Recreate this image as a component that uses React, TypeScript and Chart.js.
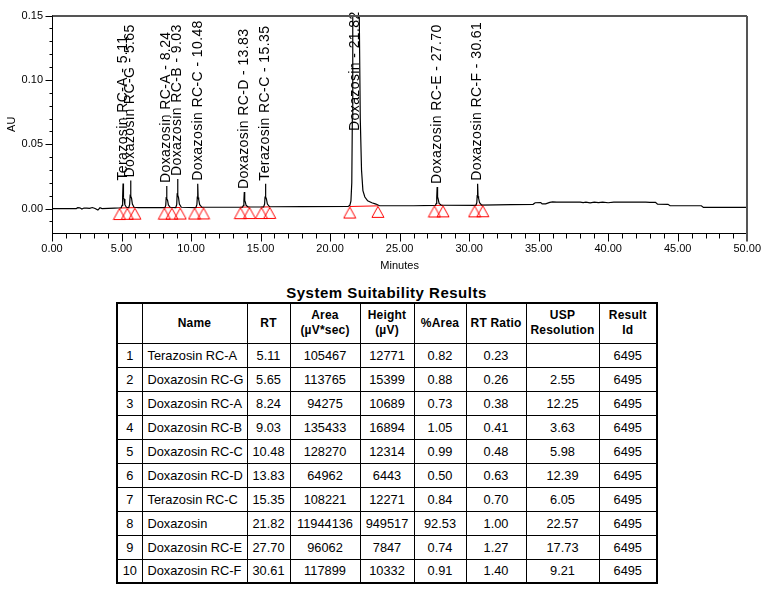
import React, { useEffect, useRef } from 'react';
import { Chart, registerables } from 'chart.js';

Chart.register(...registerables);

// ---------- Data ----------
const peakNames = [
  'Terazosin RC-A', 'Doxazosin RC-G', 'Doxazosin RC-A', 'Doxazosin RC-B', 'Doxazosin RC-C',
  'Doxazosin RC-D', 'Terazosin RC-C', 'Doxazosin', 'Doxazosin RC-E', 'Doxazosin RC-F',
];
const peakRT = [5.11, 5.65, 8.24, 9.03, 10.48, 13.83, 15.35, 21.82, 27.7, 30.61];
const peakArea = [105467, 113765, 94275, 135433, 128270, 64962, 108221, 11944136, 96062, 117899];
const peakHeight = [12771, 15399, 10689, 16894, 12314, 6443, 12271, 949517, 7847, 10332];
const peakPctArea = [0.82, 0.88, 0.73, 1.05, 0.99, 0.5, 0.84, 92.53, 0.74, 0.91];
const peakRTRatio = [0.23, 0.26, 0.38, 0.41, 0.48, 0.63, 0.7, 1.0, 1.27, 1.4];
const peakUSPRes: (number | null)[] = [null, 2.55, 12.25, 3.63, 5.98, 12.39, 6.05, 22.57, 17.73, 9.21];
const peakResultId = [6495, 6495, 6495, 6495, 6495, 6495, 6495, 6495, 6495, 6495];

// label anchor (AU): label starts just above this value
const labelAnchorAU = [0.0194, 0.0219, 0.0175, 0.023, 0.0193, 0.0128, 0.0193, 0.058, 0.0167, 0.0193];

// chromatogram trace (minutes, AU)
const traceTime = [
  0, 1.75, 1.85, 2.0, 2.15, 2.3, 2.5, 2.7, 2.9, 3.1, 3.3, 3.45, 3.6, 4.5,
  4.98, 5.04, 5.08, 5.11, 5.14, 5.18, 5.24, 5.35,
  5.52, 5.58, 5.62, 5.65, 5.68, 5.72, 5.78, 5.9, 6.2, 7.0,
  8.12, 8.18, 8.21, 8.24, 8.27, 8.31, 8.37, 8.5,
  8.9, 8.97, 9.0, 9.03, 9.06, 9.1, 9.16, 9.3,
  10.35, 10.42, 10.45, 10.48, 10.51, 10.55, 10.62, 10.78, 12.0,
  13.7, 13.77, 13.8, 13.83, 13.86, 13.9, 13.96, 14.1,
  15.22, 15.29, 15.32, 15.35, 15.38, 15.42, 15.49, 15.65, 18.0, 21.3,
  21.42, 21.5, 21.56, 21.6, 21.63, 21.7, 21.82, 21.95, 22.08, 22.17, 22.26, 22.36, 22.5, 22.7, 23.0, 23.3, 23.55,
  26.0, 27.57, 27.64, 27.67, 27.7, 27.73, 27.77, 27.84, 28.0,
  30.48, 30.55, 30.58, 30.61, 30.64, 30.68, 30.75, 30.9,
  33.0, 34.6, 34.75, 35.15, 35.25, 35.5, 35.8, 36.0, 36.3, 38.0, 38.2, 38.4, 38.7, 39.0, 39.3, 39.6, 40.0, 40.4,
  42.7, 43.0, 43.4, 43.55, 44.3, 44.45, 46.7, 46.85, 50.0,
];
const traceAU = [
  0, 0, 0.0007, 0.0006, -0.0004, 0.0004, 0.0003, 0.0002, 0.0008, 0.0, -0.0012, 0.0006, 0.0, 0.0004,
  0.0006, 0.0025, 0.009, 0.0194, 0.0085, 0.0075, 0.003, 0.001,
  0.0007, 0.003, 0.01, 0.0219, 0.0095, 0.008, 0.0035, 0.001, 0.0007, 0.0007,
  0.0007, 0.0025, 0.008, 0.0175, 0.0075, 0.0065, 0.0028, 0.001,
  0.0008, 0.003, 0.011, 0.023, 0.0105, 0.0085, 0.0035, 0.001,
  0.0008, 0.003, 0.009, 0.0193, 0.0085, 0.007, 0.003, 0.001, 0.001,
  0.0011, 0.0025, 0.006, 0.0128, 0.0062, 0.0052, 0.0025, 0.0013,
  0.0012, 0.0035, 0.009, 0.0193, 0.009, 0.0075, 0.0035, 0.0014, 0.0015, 0.0016,
  0.0025, 0.006, 0.02, 0.07, 0.16, 0.45, 0.95, 0.6, 0.17, 0.07, 0.03, 0.014, 0.009, 0.006, 0.0045, 0.0035, 0.0022,
  0.0022, 0.0024, 0.004, 0.009, 0.0167, 0.009, 0.0075, 0.004, 0.0026,
  0.0025, 0.0045, 0.01, 0.0193, 0.0095, 0.008, 0.0045, 0.0027,
  0.0031, 0.0033, 0.0045, 0.0046, 0.0036, 0.0036, 0.0048, 0.0052, 0.005, 0.005, 0.0046, 0.005, 0.0045, 0.005, 0.0046, 0.005, 0.0045, 0.005,
  0.005, 0.0048, 0.0049, 0.0034, 0.0033, 0.0022, 0.0022, 0.0009, 0.0009,
];

// peak start / end markers (minutes) and the baseline value there (AU)
const markerTime = [4.85, 5.42, 5.96, 8.08, 8.62, 9.22, 10.25, 10.9, 13.55, 14.2, 15.06, 15.66, 21.41, 23.44, 27.5, 28.12, 30.39, 30.98];
const markerAU = [0.0004, 0.0006, 0.0007, 0.0007, 0.0007, 0.0008, 0.0008, 0.0009, 0.0011, 0.0012, 0.0012, 0.0013, 0.0016, 0.0021, 0.0024, 0.0025, 0.0025, 0.0026];
// marker index pairs bounding each peak (drop baselines)
const peakStartIdx = [0, 1, 3, 4, 6, 8, 10, 12, 14, 16];
const peakEndIdx = [1, 2, 4, 5, 7, 9, 11, 13, 15, 17];

const xMajorTicks = [0, 5, 10, 15, 20, 25, 30, 35, 40, 45, 50];
const yMajorTicks = [0, 0.05, 0.1, 0.15];
const xMin = 0, xMax = 50, yMin = -0.019, yMax = 0.15;

const FONT = '"Liberation Sans", Arial, Helvetica, sans-serif';

function makeTriangle(): HTMLCanvasElement {
  const c = document.createElement('canvas');
  c.width = 14; c.height = 26;
  const g = c.getContext('2d')!;
  g.strokeStyle = '#ff0000';
  g.lineWidth = 1;
  g.beginPath();
  g.moveTo(7, 13.5);
  g.lineTo(1, 24.5);
  g.lineTo(13, 24.5);
  g.closePath();
  g.stroke();
  return c;
}

const chromPlugin = {
  id: 'chrom',
  afterDatasetsDraw(chart: any) {
    const { ctx, scales } = chart;
    const x = scales.x, y = scales.y;
    ctx.save();
    ctx.font = `14px ${FONT}`;
    try { (ctx as any).letterSpacing = '0.4px'; } catch (e) { /* ignore */ }
    ctx.fillStyle = '#000';
    ctx.textBaseline = 'middle';
    ctx.textAlign = 'left';
    peakRT.forEach((rt, i) => {
      const px = x.getPixelForValue(rt);
      const py = y.getPixelForValue(labelAnchorAU[i]) - 3;
      ctx.save();
      ctx.translate(px, py);
      ctx.rotate(-Math.PI / 2);
      ctx.fillText(`${peakNames[i]} - ${rt.toFixed(2)}`, 0, 0);
      ctx.restore();
    });
    try { (ctx as any).letterSpacing = '0px'; } catch (e) { /* ignore */ }
    ctx.restore();
  },
  afterDraw(chart: any) {
    const { ctx, chartArea, scales } = chart;
    const x = scales.x, y = scales.y;
    const L = Math.round(chartArea.left) + 0.5;
    const R = Math.round(chartArea.right);
    const T = Math.round(chartArea.top);
    const B = Math.round(chartArea.bottom) + 0.5;
    ctx.save();
    // frame top / right
    ctx.strokeStyle = '#555';
    ctx.lineWidth = 2;
    ctx.beginPath();
    ctx.moveTo(L, T);
    ctx.lineTo(R, T);
    ctx.moveTo(R, T);
    ctx.lineTo(R, B + 8);
    ctx.stroke();
    // ticks
    ctx.strokeStyle = '#000';
    ctx.lineWidth = 1;
    ctx.beginPath();
    for (let v = xMin; v <= xMax; v += 1) {
      const px = Math.round(x.getPixelForValue(v)) + 0.5;
      const major = v % 5 === 0;
      if (v === xMax) continue;
      ctx.moveTo(px, B);
      ctx.lineTo(px, B + (major ? 8 : 5));
    }
    for (let k = -1; k <= 15; k++) {
      const v = k / 100;
      const py = Math.round(y.getPixelForValue(v)) + 0.5;
      const major = k % 5 === 0;
      ctx.moveTo(L, py);
      ctx.lineTo(L - (major ? 7 : 3), py);
    }
    ctx.stroke();
    ctx.restore();
  },
};

function ChromChart() {
  const ref = useRef<HTMLCanvasElement | null>(null);
  useEffect(() => {
    if (!ref.current) return;
    const tri = makeTriangle();
    const trace = traceTime.map((t, i) => ({ x: t, y: traceAU[i] }));
    const markers = markerTime.map((t, i) => ({ x: t, y: markerAU[i] }));
    const drops: any[] = [];
    peakStartIdx.forEach((s, i) => {
      const e = peakEndIdx[i];
      drops.push({ x: markerTime[s], y: markerAU[s] });
      drops.push({ x: markerTime[e], y: markerAU[e] });
      drops.push({ x: markerTime[e] + 0.001, y: null });
    });
    const chart = new Chart(ref.current, {
      type: 'scatter',
      data: {
        datasets: [
          {
            data: markers,
            showLine: false,
            pointStyle: tri as any,
            pointRadius: 7,
            pointHoverRadius: 7,
            clip: false as any,
          },
          {
            data: trace,
            showLine: true,
            borderColor: '#000',
            borderWidth: 1.2,
            pointRadius: 0,
            pointHoverRadius: 0,
            tension: 0,
          },
          {
            data: drops,
            showLine: true,
            spanGaps: false,
            borderColor: '#ff0000',
            borderWidth: 1,
            pointRadius: 0,
            pointHoverRadius: 0,
          },
        ],
      },
      options: {
        animation: false,
        responsive: false,
        maintainAspectRatio: false,
        events: [],
        layout: { padding: { top: 14, right: 22, left: 0, bottom: 0 } },
        plugins: { legend: { display: false }, tooltip: { enabled: false } },
        scales: {
          x: {
            type: 'linear',
            min: xMin,
            max: xMax,
            afterBuildTicks: (s: any) => { s.ticks = xMajorTicks.map((v) => ({ value: v })); },
            afterFit: (s: any) => { s.height = 42; },
            grid: { display: false, drawTicks: false },
            border: { display: true, color: '#000', width: 1 },
            ticks: {
              padding: 9,
              maxRotation: 0,
              autoSkip: false,
              color: '#000',
              font: { family: FONT, size: 11 },
              callback: (v: any) => Number(v).toFixed(2),
            },
            title: {
              display: true,
              text: 'Minutes',
              color: '#000',
              font: { family: FONT, size: 11 },
              padding: { top: 0, bottom: 2 },
            },
          },
          y: {
            type: 'linear',
            min: yMin,
            max: yMax,
            afterBuildTicks: (s: any) => { s.ticks = yMajorTicks.map((v) => ({ value: v })); },
            afterFit: (s: any) => { s.width = 52; },
            grid: { display: false, drawTicks: false },
            border: { display: true, color: '#000', width: 1 },
            ticks: {
              padding: 9,
              color: '#000',
              font: { family: FONT, size: 11 },
              callback: (v: any) => Number(v).toFixed(2),
            },
            title: {
              display: true,
              text: 'AU',
              color: '#000',
              font: { family: FONT, size: 11 },
              padding: { top: 5, bottom: 0 },
            },
          },
        },
      },
      plugins: [chromPlugin],
    } as any);
    return () => chart.destroy();
  }, []);
  return <canvas ref={ref} width={770} height={275} style={{ position: 'absolute', left: 0, top: 0, width: 770, height: 275 }} />;
}

const colWidths = [25, 105, 43, 70, 54, 52, 60, 73, 58];
const headers = ['', 'Name', 'RT', 'Area\n(µV*sec)', 'Height\n(µV)', '%Area', 'RT Ratio', 'USP\nResolution', 'Result\nId'];

function ResultsTable() {
  const cell: React.CSSProperties = {
    border: '1px solid #000',
    padding: 0,
    textAlign: 'center',
    verticalAlign: 'middle',
    fontSize: '12.8px',
    color: '#000',
    whiteSpace: 'nowrap',
    overflow: 'hidden',
  };
  const head: React.CSSProperties = {
    ...cell,
    fontWeight: 'bold',
    fontSize: '12px',
    lineHeight: '15px',
    whiteSpace: 'pre-line',
    letterSpacing: '0.2px',
  };
  return (
    <>
      <div
        style={{
          position: 'absolute', left: 116, top: 283, width: 541, height: 20,
          textAlign: 'center', fontFamily: FONT, fontWeight: 'bold', fontSize: '15px',
          letterSpacing: '0.5px', lineHeight: '20px', color: '#000',
        }}
      >
        System Suitability Results
      </div>
      <table
        style={{
          position: 'absolute', left: 116, top: 302, width: 541,
          borderCollapse: 'collapse', tableLayout: 'fixed', fontFamily: FONT,
          border: '2px solid #000',
        }}
      >
        <colgroup>
          {colWidths.map((w, i) => <col key={i} style={{ width: w }} />)}
        </colgroup>
        <thead>
          <tr style={{ height: 40 }}>
            {headers.map((h, i) => <th key={i} style={head}>{h}</th>)}
          </tr>
        </thead>
        <tbody>
          {peakNames.map((n, i) => (
            <tr key={i} style={{ height: 24 }}>
              <td style={cell}>{i + 1}</td>
              <td style={{ ...cell, textAlign: 'left', paddingLeft: 5 }}>{n}</td>
              <td style={cell}>{peakRT[i].toFixed(2)}</td>
              <td style={cell}>{peakArea[i]}</td>
              <td style={cell}>{peakHeight[i]}</td>
              <td style={cell}>{peakPctArea[i].toFixed(2)}</td>
              <td style={cell}>{peakRTRatio[i].toFixed(2)}</td>
              <td style={cell}>{peakUSPRes[i] == null ? '' : (peakUSPRes[i] as number).toFixed(2)}</td>
              <td style={cell}>{peakResultId[i]}</td>
            </tr>
          ))}
        </tbody>
      </table>
    </>
  );
}

export default function App() {
  return (
    <div style={{ position: 'absolute', left: 0, top: 0, width: 770, height: 590, background: '#fff', fontFamily: FONT }}>
      <ChromChart />
      <ResultsTable />
    </div>
  );
}
